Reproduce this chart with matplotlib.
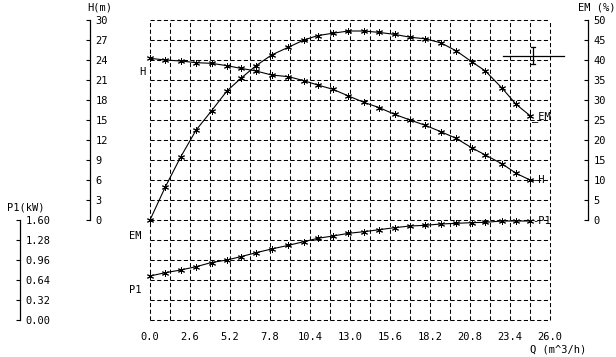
import matplotlib
matplotlib.use("Agg")
import matplotlib.pyplot as plt
import numpy as np

# --- data ---
q = [0, 1.0, 2.0, 3.0, 4.0, 5.0, 5.9, 6.9, 7.9, 9.0, 10.0, 10.9, 11.9,
     12.9, 13.9, 14.9, 15.9, 16.9, 17.9, 18.9, 19.9, 20.9, 21.8, 22.9, 23.8, 24.7]
head = [24.25, 24.0, 23.85, 23.6, 23.5, 23.15, 22.75, 22.35, 21.75, 21.5, 20.9,
        20.25, 19.6, 18.6, 17.65, 16.85, 15.85, 15.0, 14.2, 13.25, 12.25, 10.85,
        9.75, 8.4, 7.0, 6.0]
eff = [0, 8.3, 15.8, 22.5, 27.3, 32.25, 35.4, 38.6, 41.25, 43.2, 45.0, 46.1,
       46.7, 47.25, 47.25, 46.9, 46.4, 45.7, 45.3, 44.3, 42.3, 39.6, 37.25,
       32.9, 28.9, 26.1]
power = [0.704, 0.757, 0.80, 0.853, 0.92, 0.96, 1.013, 1.077, 1.136, 1.195,
         1.253, 1.307, 1.344, 1.387, 1.413, 1.445, 1.477, 1.504, 1.515, 1.536,
         1.547, 1.557, 1.563, 1.584, 1.584, 1.584]

q_ticks = [0.0, 2.6, 5.2, 7.8, 10.4, 13.0, 15.6, 18.2, 20.8, 23.4, 26.0]
h_ticks = [0, 3, 6, 9, 12, 15, 18, 21, 24, 27, 30]
em_ticks = [0, 5, 10, 15, 20, 25, 30, 35, 40, 45, 50]
p1_ticks = [0.00, 0.32, 0.64, 0.96, 1.28, 1.60]

W, H = 616, 357
plt.rcParams['font.family'] = ['DejaVu Sans Mono']
plt.rcParams['font.size'] = 7.5
plt.rcParams['lines.scale_dashes'] = False

fig = plt.figure(figsize=(W / 100, H / 100), dpi=100)
fig.patch.set_facecolor('white')


def px_box(x0, y0, x1, y1):
    # pixel box (top-left origin) -> figure fraction rect
    return [x0 / W, 1 - y1 / H, (x1 - x0) / W, (y1 - y0) / H]


def fx(x):
    return x / W


def fy(y):
    return 1 - y / H


# main plotting area: Q 0..26, H -15..30
ax = fig.add_axes(px_box(150, 20, 550, 320))
ax.set_xlim(0, 26)
ax.set_ylim(-15, 30)
for s in ax.spines.values():
    s.set_visible(False)
ax.set_xticks(q_ticks)
ax.set_xticklabels(["%.1f" % t for t in q_ticks])
ax.tick_params(axis='x', length=0, pad=9)
ax.set_yticks([])
ax.patch.set_alpha(0)

dash = (0, (3.0, 1.8))
for xv in np.arange(0, 26.01, 1.3):
    ax.axvline(xv, color='black', lw=0.75, ls=dash, clip_on=False, zorder=1)
for yv in np.arange(-15, 30.01, 3):
    ax.axhline(yv, color='black', lw=0.75, ls=dash, clip_on=False, zorder=1)

mk = dict(marker=(6, 2, 0), markersize=5, markeredgewidth=0.7,
          color='black', lw=0.8, clip_on=False, zorder=3)

ax.plot(q, head, **mk)

ax_em = ax.twinx()
ax_em.set_ylim(-25, 50)
ax_em.axis('off')
ax_em.plot(q, eff, **mk)

ax_p1 = ax.twinx()
ax_p1.set_ylim(0, 4.8)
ax_p1.axis('off')
ax_p1.plot(q, power, **mk)

# end-of-curve labels
ax_em.annotate("_EM", xy=(q[-1], eff[-1]), xytext=(1.5, -1), textcoords='offset points',
               va='center', ha='left')
ax.annotate("-H", xy=(q[-1], head[-1]), xytext=(1.5, 0), textcoords='offset points',
            va='center', ha='left')
ax_p1.annotate("-P1", xy=(q[-1], power[-1]), xytext=(1.5, 0), textcoords='offset points',
               va='center', ha='left')


def scale_axis(rect, lim, ticks, fmt):
    a = fig.add_axes(rect)
    a.patch.set_alpha(0)
    a.set_ylim(*lim)
    a.set_xticks([])
    for k in ('left', 'top', 'bottom'):
        a.spines[k].set_visible(False)
    a.spines['right'].set_linewidth(0.9)
    a.yaxis.tick_right()
    a.set_yticks(ticks)
    a.set_yticklabels([fmt % t for t in ticks])
    a.tick_params(axis='y', direction='in', length=3, width=0.8, pad=4)
    return a


scale_axis(px_box(80, 20, 90, 220), (0, 30), h_ticks, "%d")
scale_axis(px_box(578, 20, 588, 220), (0, 50), em_ticks, "%d")
scale_axis(px_box(10, 220, 20, 320), (0, 1.6), p1_ticks, "%.2f")

# axis titles
fig.text(fx(87), fy(7), "H(m)", ha='left', va='center')
fig.text(fx(578), fy(7), "EM (%)", ha='left', va='center')
fig.text(fx(7), fy(207), "P1(kW)", ha='left', va='center')
fig.text(fx(530), fy(350), "Q (m^3/h)", ha='left', va='center')

# curve names on the left
fig.text(fx(139), fy(72), "H", ha='left', va='center')
fig.text(fx(129), fy(236), "EM", ha='left', va='center')
fig.text(fx(129), fy(290), "P1", ha='left', va='center')

# cursor cross at top right
ax_em.plot([22.95, 26.9], [41.1, 41.1], color='black', lw=0.9, clip_on=False)
ax_em.plot([24.9, 24.9], [39.0, 43.3], color='black', lw=0.9, clip_on=False)
ax_em.plot([24.75, 25.05], [43.3, 43.3], color='black', lw=0.9, clip_on=False)
ax_em.plot([24.75, 25.05], [39.0, 39.0], color='black', lw=0.9, clip_on=False)

fig.savefig("out.png", dpi=100)
